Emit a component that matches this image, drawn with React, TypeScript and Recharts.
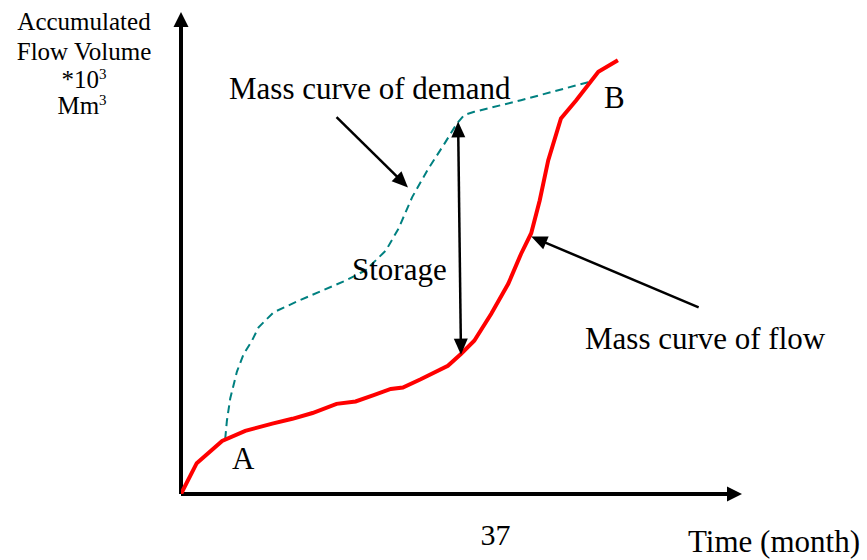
import React from 'react';
import { LineChart, Line, XAxis, YAxis, ReferenceLine } from 'recharts';

// Mass curve of flow (red): time in months, accumulated volume (x10^3 Mm3, arbitrary scale)
const flowMonths = [0, 1.85, 4.84, 7.56, 10.74, 13.1, 15.47, 18.3, 20.54, 22.67, 24.68, 26.1, 28.2, 31.4, 32.9, 34.5, 36.5, 38.5, 40.0, 41.2, 42.2, 43.2, 44.7, 46.5, 49.1, 51.4];
const flowVolume = [0, 6.4, 11.0, 13.1, 14.6, 15.6, 16.8, 18.7, 19.2, 20.5, 21.8, 22.1, 23.8, 26.6, 29.0, 31.8, 37.4, 43.6, 49.8, 54.1, 60.9, 69.2, 77.9, 81.7, 87.6, 90.0];

// Mass curve of demand (dashed teal)
const demandMonths = [5.2, 5.4, 5.79, 6.58, 7.36, 8.35, 9.13, 10.9, 13.85, 16.6, 19.4, 21.7, 24.1, 25.6, 27.2, 29.0, 31.0, 32.4, 33.3, 34.5, 40.0, 48.05];
const demandVolume = [11.4, 15.2, 19.8, 25.4, 29.0, 31.8, 34.6, 37.7, 40.1, 42.2, 44.3, 46.4, 50.5, 55.1, 61.6, 67.2, 72.7, 76.7, 78.6, 79.3, 81.7, 85.5];

const xTicks = [37];
const xMax = 66;
const yMax = 100;

// annotation arrows [from, to] in data units
const demandArrow = [{ x: 18.3, y: 78.2 }, { x: 26.7, y: 63.6 }];
const storageArrow = [{ x: 32.6, y: 77.3 }, { x: 32.94, y: 28.9 }];
const flowArrow = [{ x: 60.9, y: 38.7 }, { x: 41.2, y: 53.4 }];
const xAxisArrow = [{ x: 0, y: 0 }, { x: xMax, y: 0 }];
const yAxisArrow = [{ x: 0, y: 0 }, { x: 0, y: yMax }];

const flowData = flowMonths.map((m, i) => ({ x: m, v: flowVolume[i] }));
const demandData = demandMonths.map((m, i) => ({ x: m, v: demandVolume[i] }));

const FONT = '"Liberation Serif", "Times New Roman", serif';

function makeArrow(startHead: boolean, endHead: boolean, width: number, L: number, W: number) {
  return (p: any) => {
    const { x1, y1, x2, y2 } = p;
    if ([x1, y1, x2, y2].some((v) => typeof v !== 'number' || isNaN(v))) return <g />;
    const dx = x2 - x1;
    const dy = y2 - y1;
    const len = Math.sqrt(dx * dx + dy * dy) || 1;
    const ux = dx / len;
    const uy = dy / len;
    const nx = -uy;
    const ny = ux;
    const sx = startHead ? x1 + ux * L * 0.8 : x1;
    const sy = startHead ? y1 + uy * L * 0.8 : y1;
    const ex = endHead ? x2 - ux * L * 0.8 : x2;
    const ey = endHead ? y2 - uy * L * 0.8 : y2;
    const head = (tx: number, ty: number, dir: number) => {
      const bx = tx - dir * ux * L;
      const by = ty - dir * uy * L;
      return `${tx},${ty} ${bx + nx * W},${by + ny * W} ${bx - nx * W},${by - ny * W}`;
    };
    return (
      <g>
        <line x1={sx} y1={sy} x2={ex} y2={ey} stroke="#000" strokeWidth={width} />
        {endHead && <polygon points={head(x2, y2, 1)} fill="#000" />}
        {startHead && <polygon points={head(x1, y1, -1)} fill="#000" />}
      </g>
    );
  };
}

export default function App() {
  return (
    <div style={{ position: 'absolute', left: 0, top: 0, width: 867, height: 560, background: '#fff' }}>
      <LineChart width={867} height={560} margin={{ top: 12, right: 125, bottom: 36, left: 181 }}>
        <XAxis
          type="number"
          dataKey="x"
          domain={[0, xMax]}
          ticks={xTicks}
          allowDataOverflow
          axisLine={false}
          tickLine={false}
          height={30}
          tickMargin={24}
          tick={{ fontSize: 30, fill: '#000', fontFamily: FONT }}
        />
        <YAxis type="number" dataKey="v" domain={[0, yMax]} hide allowDataOverflow />
        <ReferenceLine segment={yAxisArrow} ifOverflow="visible" shape={makeArrow(false, true, 4, 15, 7.5)} />
        <ReferenceLine segment={xAxisArrow} ifOverflow="visible" shape={makeArrow(false, true, 4, 15, 7.5)} />
        <Line
          data={demandData}
          dataKey="v"
          type="linear"
          stroke="#008080"
          strokeWidth={2}
          strokeDasharray="8 5"
          dot={false}
          isAnimationActive={false}
        />
        <Line
          data={flowData}
          dataKey="v"
          type="linear"
          stroke="#ff0000"
          strokeWidth={4}
          dot={false}
          isAnimationActive={false}
        />
        <ReferenceLine segment={demandArrow} ifOverflow="visible" shape={makeArrow(false, true, 2.5, 16, 7)} />
        <ReferenceLine segment={storageArrow} ifOverflow="visible" shape={makeArrow(true, true, 2.5, 16, 7)} />
        <ReferenceLine segment={flowArrow} ifOverflow="visible" shape={makeArrow(false, true, 2.5, 16, 7)} />
      </LineChart>
      <svg
        width={867}
        height={560}
        style={{ position: 'absolute', left: 0, top: 0, pointerEvents: 'none' }}
        fontFamily={FONT}
        fill="#000"
      >
        <g fontSize={25} textAnchor="middle">
          <text x={84} y={30}>Accumulated</text>
          <text x={84} y={60}>Flow Volume</text>
          <text x={84} y={88}>
            *10<tspan fontSize={15} dy={-9}>3</tspan>
          </text>
          <text x={82} y={114}>
            Mm<tspan fontSize={15} dy={-9}>3</tspan>
          </text>
        </g>
        <g fontSize={31}>
          <text x={229} y={99}>Mass curve of demand</text>
          <text x={604} y={108}>B</text>
          <text x={352} y={280}>Storage</text>
          <text x={585} y={349}>Mass curve of flow</text>
          <text x={232} y={469}>A</text>
          <text x={688} y={552}>Time (month)</text>
        </g>
      </svg>
    </div>
  );
}
